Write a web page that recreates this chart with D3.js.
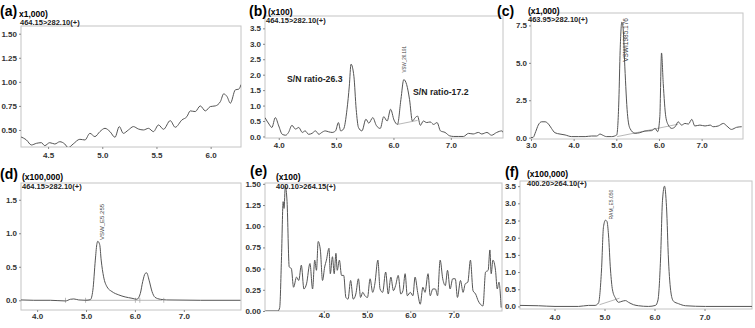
<!DOCTYPE html>
<html>
<head>
<meta charset="utf-8">
<script src="https://cdn.jsdelivr.net/npm/d3@7"></script>
<style>
  body { margin: 0; background: #fff; }
  svg { font-family: "Liberation Sans", Arial, sans-serif; }
</style>
</head>
<body>
<div id="chart"></div>
<script>
// chromatogram traces, [retention time (min), intensity]
const traceA = [[4.244,0.43],[4.30,0.396],[4.346,0.344],[4.392,0.361],[4.438,0.368],[4.469,0.337],[4.515,0.368],[4.562,0.354],[4.608,0.378],[4.654,0.354],[4.685,0.316],[4.731,0.354],[4.793,0.403],[4.84,0.396],[4.886,0.465],[4.932,0.431],[4.978,0.483],[5.025,0.517],[5.071,0.483],[5.117,0.424],[5.157,0.535],[5.194,0.465],[5.241,0.5],[5.287,0.535],[5.333,0.51],[5.38,0.5],[5.426,0.517],[5.472,0.483],[5.519,0.552],[5.565,0.507],[5.627,0.597],[5.673,0.528],[5.735,0.604],[5.781,0.639],[5.812,0.698],[5.858,0.691],[5.904,0.75],[5.951,0.698],[5.997,0.743],[6.043,0.75],[6.09,0.795],[6.12,0.875],[6.151,0.847],[6.182,0.778],[6.228,0.917],[6.259,0.924],[6.281,0.972]];

const traceB = [[3.76,0.61],[3.83,0.40],[3.88,0.29],[3.94,0.61],[4.00,0.34],[4.06,0.07],[4.12,0.04],[4.17,0.13],[4.23,0.36],[4.29,0.24],[4.35,0.29],[4.41,0.13],[4.46,0.18],[4.52,0.07],[4.58,0.10],[4.64,0.18],[4.70,0.07],[4.75,0.13],[4.81,0.18],[4.87,0.15],[4.93,0.13],[4.99,0.18],[5.04,0.45],[5.08,0.18],[5.13,0.24],[5.19,0.88],[5.23,1.63],[5.26,2.34],[5.31,1.95],[5.35,0.88],[5.39,0.29],[5.45,0.18],[5.52,0.56],[5.57,0.43],[5.64,0.61],[5.70,0.36],[5.77,0.26],[5.83,0.64],[5.89,0.50],[5.95,0.88],[6.01,0.53],[6.07,0.39],[6.13,1.20],[6.18,1.84],[6.23,1.68],[6.28,1.20],[6.33,0.50],[6.38,0.61],[6.42,0.66],[6.47,0.36],[6.52,0.50],[6.58,0.45],[6.64,0.47],[6.70,0.39],[6.76,0.45],[6.82,0.18],[6.90,0.13],[6.98,0.02],[7.05,0.0],[7.13,0.0],[7.22,0.0],[7.31,0.10],[7.39,0.08],[7.48,0.13],[7.54,0.08],[7.63,0.13],[7.71,0.04],[7.80,0.13],[7.89,0.18],[7.94,0.02]];

const traceC = [[3.0,0.0],[3.05,0.02],[3.11,0.40],[3.17,0.84],[3.25,1.06],[3.33,1.06],[3.41,0.91],[3.48,0.62],[3.56,0.33],[3.68,0.24],[3.80,0.18],[3.95,0.07],[4.11,0.07],[4.27,0.07],[4.42,0.11],[4.54,0.11],[4.62,0.24],[4.67,0.18],[4.77,0.07],[4.89,0.07],[5.01,0.18],[5.06,2.51],[5.09,5.84],[5.13,7.72],[5.16,7.28],[5.20,4.73],[5.26,1.62],[5.32,0.62],[5.44,0.29],[5.55,0.33],[5.67,0.44],[5.83,0.47],[5.91,0.62],[5.97,0.40],[6.02,1.40],[6.06,5.66],[6.10,3.62],[6.16,1.40],[6.22,0.84],[6.30,0.62],[6.38,0.73],[6.45,1.06],[6.53,0.84],[6.61,0.95],[6.69,0.91],[6.77,1.22],[6.84,0.78],[6.96,0.84],[7.08,0.78],[7.20,0.84],[7.27,0.73],[7.39,0.78],[7.51,0.95],[7.59,0.78],[7.70,0.55],[7.82,0.69],[7.94,0.73]];

const traceD = [[3.67,0.005],[3.93,0.0],[4.27,0.0],[4.58,-0.01],[4.68,0.015],[4.75,0.02],[4.85,0.005],[4.99,0.0],[5.09,0.01],[5.14,0.15],[5.19,0.60],[5.22,0.83],[5.24,0.88],[5.28,0.83],[5.31,0.60],[5.36,0.35],[5.43,0.20],[5.53,0.13],[5.67,0.08],[5.80,0.05],[5.94,0.03],[6.04,0.015],[6.11,0.10],[6.16,0.28],[6.21,0.40],[6.24,0.41],[6.29,0.30],[6.35,0.13],[6.41,0.045],[6.52,0.015],[6.65,0.005],[7.34,0.0],[8.16,0.0]];

const traceE = [[2.65,0.0],[2.94,0.0],[2.98,0.04],[3.02,0.60],[3.06,1.29],[3.08,1.21],[3.11,1.47],[3.15,1.29],[3.20,0.52],[3.25,0.50],[3.30,0.28],[3.37,0.40],[3.42,0.36],[3.48,0.54],[3.54,0.26],[3.60,0.32],[3.68,0.56],[3.74,0.26],[3.79,0.60],[3.83,0.48],[3.87,0.82],[3.92,0.72],[3.97,0.36],[4.02,0.52],[4.06,0.60],[4.12,0.74],[4.15,0.44],[4.20,0.64],[4.24,0.44],[4.28,0.68],[4.31,0.48],[4.36,0.60],[4.41,0.42],[4.46,0.42],[4.51,0.16],[4.56,0.14],[4.62,0.36],[4.68,0.14],[4.74,0.20],[4.80,0.38],[4.85,0.16],[4.90,0.22],[4.95,0.18],[5.01,0.16],[5.07,0.38],[5.13,0.22],[5.18,0.32],[5.25,0.60],[5.30,0.26],[5.36,0.22],[5.43,0.46],[5.49,0.20],[5.55,0.40],[5.61,0.24],[5.66,0.30],[5.72,0.42],[5.78,0.20],[5.83,0.24],[5.88,0.44],[5.93,0.18],[6.00,0.22],[6.06,0.18],[6.11,0.40],[6.17,0.22],[6.23,0.08],[6.29,0.28],[6.34,0.22],[6.41,0.44],[6.46,0.18],[6.52,0.26],[6.58,0.26],[6.63,0.18],[6.69,0.60],[6.75,0.38],[6.81,0.30],[6.86,0.48],[6.92,0.26],[6.98,0.38],[7.04,0.38],[7.09,0.16],[7.16,0.36],[7.22,0.22],[7.27,0.32],[7.33,0.34],[7.39,0.60],[7.45,0.24],[7.51,0.20],[7.57,0.12],[7.62,0.08],[7.68,0.06],[7.74,0.46],[7.80,0.48],[7.84,0.72],[7.87,0.44],[7.91,0.60],[7.97,0.48],[8.01,0.26],[8.05,0.34],[8.10,0.04]];

const traceF = [[3.31,0.03],[3.68,0.02],[4.01,0.0],[4.48,0.0],[4.68,0.03],[4.81,0.03],[4.88,0.10],[4.94,1.06],[4.98,2.32],[5.02,2.51],[5.05,2.47],[5.08,2.08],[5.12,1.06],[5.16,0.48],[5.22,0.24],[5.28,0.12],[5.35,0.15],[5.42,0.17],[5.48,0.12],[5.58,0.05],[5.68,0.02],[5.88,0.0],[6.02,0.03],[6.07,0.19],[6.12,1.35],[6.16,3.09],[6.20,3.50],[6.24,2.90],[6.28,1.35],[6.33,0.39],[6.38,0.15],[6.48,0.08],[6.62,0.02],[7.02,0.0],[7.95,0.0]];

// integration baselines
const baseB = [[6.07,0.39],[6.42,0.52]];
const baseC = [[5.02,0.07],[6.45,0.9]];
const baseD = [[4.99,0.0],[6.56,0.0]];
const baseF = [[4.90,0.05],[5.30,0.24]];
const marksD = [4.58, 4.99, 6.01, 6.10, 6.59];

// tick values
const ticksA = { x: [4.5, 5.0, 5.5, 6.0], y: [0.5, 0.75, 1.0, 1.25, 1.5] };
const ticksB = { x: [4.0, 5.0, 6.0, 7.0], y: [0.0, 0.5, 1.0, 1.5, 2.0, 2.5, 3.0, 3.5] };
const ticksC = { x: [3.0, 4.0, 5.0, 6.0, 7.0], y: [0.0, 2.5, 5.0, 7.5] };
const ticksD = { x: [4.0, 5.0, 6.0, 7.0], y: [0.0, 0.5, 1.0, 1.5] };
const ticksE = { x: [4.0, 5.0, 6.0, 7.0], y: [0.0, 0.25, 0.5, 0.75, 1.0, 1.25, 1.5] };
const ticksF = { x: [4.0, 5.0, 6.0, 7.0], y: [0.0, 0.5, 1.0, 1.5, 2.0, 2.5, 3.0, 3.5] };

const panels = [
  { tag: "(a)", mult: "x1,000)", mrm: "464.15>282.10(+)", trace: traceA, ticks: ticksA,
    xDom: [4.25, 6.28], yDom: [0.323, 1.58], yFmt: ".2f",
    box: [21, 26, 241, 147], tagPos: [0, 16], multPos: [19, 17], mrmPos: [20, 25], xLab: 11 },
  { tag: "(b)", mult: "(x100)", mrm: "464.15>282.10(+)", trace: traceB, ticks: ticksB,
    xDom: [3.76, 7.91], yDom: [-0.05, 3.9], yFmt: ".1f",
    box: [265, 16, 503, 138], tagPos: [249, 16], multPos: [268, 15], mrmPos: [266, 23], xLab: 10,
    base: baseB, peak: { text: "VSW_26.191", t: 6.19, v: 2.07, size: 4.5 },
    notes: [{ text: "S/N ratio-26.3", x: 287, y: 82 }, { text: "S/N ratio-17.2", x: 413, y: 95 }] },
  { tag: "(c)", mult: "(x1,000)", mrm: "463.95>282.10(+)", trace: traceC, ticks: ticksC,
    xDom: [3.0, 7.97], yDom: [-0.09, 8.33], yFmt: ".1f",
    box: [531, 13, 743, 139], tagPos: [497, 16], multPos: [528, 14], mrmPos: [528, 22], xLab: 9,
    base: baseC, peak: { text: "VSWI1985.176", t: 5.21, v: 5.07, size: 6.5 } },
  { tag: "(d)", mult: "(x100,000)", mrm: "464.15>282.10(+)", trace: traceD, ticks: ticksD,
    xDom: [3.67, 8.17], yDom: [-0.145, 1.75], yFmt: ".1f",
    box: [21, 183, 241, 310], tagPos: [0, 179], multPos: [22, 180], mrmPos: [22, 189], xLab: 9,
    base: baseD, marks: marksD, peak: { text: "VSW_E5.255", t: 5.33, v: 0.9, size: 6 } },
  { tag: "(e)", mult: "(x100)", mrm: "400.10>264.15(+)", trace: traceE, ticks: ticksE,
    xDom: [2.64, 8.12], yDom: [0.0, 1.51], yFmt: ".2f",
    box: [265, 183, 502, 311], tagPos: [250, 176], multPos: [276, 180], mrmPos: [276, 189], xLab: 7 },
  { tag: "(f)", mult: "(x100,000)", mrm: "400.20>264.10(+)", trace: traceF, ticks: ticksF,
    xDom: [3.31, 7.95], yDom: [-0.075, 3.65], yFmt: ".1f",
    box: [520, 181, 752, 309], tagPos: [505, 177], multPos: [527, 177], mrmPos: [527, 186], xLab: 11,
    base: baseF, peak: { text: "RAM_E5.050", t: 5.14, v: 2.53, size: 5 } }
];

const svg = d3.select("#chart").append("svg")
  .attr("width", 755)
  .attr("height", 328);

panels.forEach((p, i) => {
  const [x0, y0, x1, y1] = p.box;
  const x = d3.scaleLinear().domain(p.xDom).range([x0, x1]);
  const y = d3.scaleLinear().domain(p.yDom).range([y1, y0]);
  const g = svg.append("g");

  g.append("clipPath").attr("id", "clip" + i)
    .append("rect").attr("x", x0).attr("y", y0).attr("width", x1 - x0).attr("height", y1 - y0);

  // frame
  g.append("rect")
    .attr("x", x0).attr("y", y0)
    .attr("width", x1 - x0).attr("height", y1 - y0)
    .attr("fill", "none").attr("stroke", "#c4c4c4").attr("stroke-width", 1);

  // axes
  const xAxis = g.append("g")
    .attr("transform", `translate(0,${y1})`)
    .call(d3.axisBottom(x).tickValues(p.ticks.x).tickFormat(d3.format(".1f")).tickSize(2).tickPadding(p.xLab - 8));
  const yAxis = g.append("g")
    .attr("transform", `translate(${x0},0)`)
    .call(d3.axisLeft(y).tickValues(p.ticks.y).tickFormat(d3.format(p.yFmt)).tickSize(2).tickPadding(2));
  [xAxis, yAxis].forEach(a => {
    a.select(".domain").remove();
    a.selectAll("line").attr("stroke", "#888");
    a.selectAll("text")
      .attr("fill", "#333")
      .style("font-size", "8px")
      .style("font-weight", "bold")
      .style("font-family", "'Liberation Sans', Arial, sans-serif");
  });

  const line = d3.line()
    .x(d => x(d[0]))
    .y(d => y(d[1]))
    .curve(d3.curveMonotoneX);

  if (p.base) {
    g.append("path")
      .datum(p.base)
      .attr("d", d3.line().x(d => x(d[0])).y(d => y(d[1])))
      .attr("fill", "none").attr("stroke", "#9a9a9a").attr("stroke-width", 0.7)
      .attr("clip-path", `url(#clip${i})`);
  }
  if (p.marks) {
    g.selectAll(".mark").data(p.marks).enter().append("line")
      .attr("x1", d => x(d)).attr("x2", d => x(d))
      .attr("y1", y(0) - 2.5).attr("y2", y(0) + 2.5)
      .attr("stroke", "#aaa").attr("stroke-width", 0.8);
  }

  g.append("path")
    .datum(p.trace)
    .attr("d", line)
    .attr("fill", "none")
    .attr("stroke", "#555")
    .attr("stroke-width", 1)
    .attr("clip-path", `url(#clip${i})`);

  if (p.peak) {
    const px = x(p.peak.t), py = y(p.peak.v);
    g.append("text")
      .attr("transform", `translate(${px},${py}) rotate(-90)`)
      .attr("dy", "0.35em")
      .attr("fill", "#444")
      .style("font-size", p.peak.size + "px")
      .text(p.peak.text);
  }

  (p.notes || []).forEach(n => {
    g.append("text")
      .attr("x", n.x).attr("y", n.y)
      .attr("fill", "#222")
      .style("font-size", "8.7px")
      .style("font-weight", "bold")
      .text(n.text);
  });

  // panel tag, scale multiplier and MRM transition
  g.append("text")
    .attr("x", p.tagPos[0]).attr("y", p.tagPos[1])
    .style("font-size", "14px").style("font-weight", "bold")
    .text(p.tag);
  g.append("text")
    .attr("x", p.multPos[0]).attr("y", p.multPos[1])
    .style("font-size", "8.5px").style("font-weight", "bold")
    .text(p.mult);
  g.append("text")
    .attr("x", p.mrmPos[0]).attr("y", p.mrmPos[1])
    .attr("fill", "#222")
    .style("font-size", "7.5px").style("font-weight", "bold")
    .text(p.mrm);
});
</script>
</body>
</html>
